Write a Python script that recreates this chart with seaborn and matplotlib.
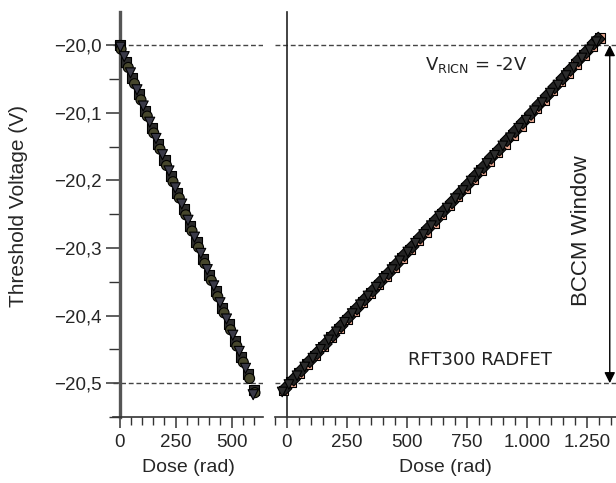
import matplotlib
matplotlib.use("Agg")
import matplotlib.pyplot as plt
import matplotlib.ticker as mticker
import seaborn as sns
import pandas as pd

# ---------------- data ----------------
left_dose_a = [0, 29, 57, 86, 114, 143, 171, 200, 229, 257, 286, 314, 343, 371,
               400, 429, 457, 486, 514, 543, 571, 600]
left_dose_b = [6, 38, 66, 95, 123, 152, 180, 209, 238, 266, 295, 323, 352, 380,
               409, 438, 466, 495, 523, 552, 580, 604]
left_dose_c = [3, 20, 48, 77, 105, 134, 162, 191, 220, 248, 277, 305, 334, 362,
               391, 420, 448, 477, 505, 534, 562, 596]
left_sq = [-20.000, -20.025, -20.049, -20.073, -20.097, -20.122, -20.146, -20.170,
           -20.194, -20.219, -20.243, -20.267, -20.291, -20.316, -20.340, -20.364,
           -20.389, -20.413, -20.437, -20.461, -20.486, -20.510]
left_ci = [-20.006, -20.033, -20.057, -20.081, -20.105, -20.130, -20.154, -20.178,
           -20.202, -20.226, -20.251, -20.275, -20.299, -20.323, -20.348, -20.372,
           -20.396, -20.421, -20.445, -20.469, -20.493, -20.514]
left_tr = [-20.003, -20.017, -20.041, -20.066, -20.090, -20.114, -20.138, -20.162,
           -20.186, -20.211, -20.235, -20.259, -20.284, -20.308, -20.332, -20.356,
           -20.381, -20.405, -20.429, -20.453, -20.478, -20.517]

right_dose = [-15, 18, 51, 84, 117, 150, 183, 216, 249, 282, 315, 348, 381, 414,
              447, 480, 513, 546, 579, 612, 645, 678, 711, 744, 777, 810, 843, 876,
              909, 942, 975, 1008, 1041, 1074, 1107, 1140, 1173, 1206, 1239, 1272, 1305]
right_dose_b = [-8, 28, 60, 95, 126, 160, 192, 226, 258, 292, 324, 358, 390, 424,
                456, 490, 522, 556, 588, 622, 654, 688, 720, 754, 786, 820, 852, 886,
                918, 952, 984, 1018, 1050, 1084, 1116, 1150, 1182, 1216, 1248, 1280, 1298]
right_dose_c = [-20, 8, 42, 74, 108, 140, 174, 206, 240, 272, 306, 338, 372, 404,
                438, 470, 504, 536, 570, 602, 636, 668, 702, 734, 768, 800, 834, 866,
                900, 932, 966, 998, 1032, 1064, 1098, 1130, 1164, 1196, 1230, 1262, 1290]
right_sq = [-20.511, -20.498, -20.485, -20.472, -20.459, -20.446, -20.432, -20.419,
            -20.406, -20.393, -20.380, -20.367, -20.354, -20.341, -20.328, -20.315,
            -20.302, -20.289, -20.276, -20.263, -20.250, -20.237, -20.224, -20.211,
            -20.198, -20.185, -20.172, -20.159, -20.146, -20.133, -20.120, -20.107,
            -20.094, -20.081, -20.067, -20.054, -20.041, -20.028, -20.015, -20.002,
            -19.989]
right_di = [-20.508, -20.494, -20.481, -20.467, -20.455, -20.442, -20.429, -20.415,
            -20.402, -20.389, -20.376, -20.363, -20.350, -20.337, -20.324, -20.310,
            -20.298, -20.284, -20.271, -20.258, -20.245, -20.232, -20.219, -20.206,
            -20.193, -20.180, -20.166, -20.154, -20.140, -20.127, -20.114, -20.101,
            -20.088, -20.075, -20.062, -20.049, -20.036, -20.022, -20.010, -19.997,
            -19.991]
right_tr = [-20.513, -20.502, -20.489, -20.476, -20.463, -20.450, -20.436, -20.424,
            -20.410, -20.397, -20.384, -20.371, -20.358, -20.345, -20.332, -20.319,
            -20.306, -20.293, -20.280, -20.267, -20.253, -20.241, -20.227, -20.215,
            -20.201, -20.189, -20.175, -20.163, -20.149, -20.137, -20.123, -20.111,
            -20.097, -20.085, -20.071, -20.059, -20.045, -20.033, -20.019, -20.007,
            -19.995]

x_label = "Dose (rad)"
y_label = "Threshold Voltage (V)"
window_lines = [-20.0, -20.5]

# ---------------- style ----------------
sns.set_style("ticks")
plt.rcParams["font.family"] = ["Liberation Sans", "DejaVu Sans"]
plt.rcParams["axes.unicode_minus"] = True

def long_df(parts):
    rows = []
    for name, dose, vals in parts:
        for d, v in zip(dose, vals):
            rows.append({"dose": d, "vt": v, "series": name})
    return pd.DataFrame(rows)

dfL = long_df([("A", left_dose_a, left_sq), ("B", left_dose_b, left_ci),
               ("C", left_dose_c, left_tr)])
dfR = long_df([("A", right_dose, right_sq), ("B", right_dose_b, right_di),
               ("C", right_dose_c, right_tr)])

fig = plt.figure(figsize=(6.16, 4.83), dpi=100)
W, H = 616, 483
bottom = 1 - 417 / H
height = 405 / H
axL = fig.add_axes([113 / W, bottom, 150 / W, height])
axR = fig.add_axes([275 / W, bottom, 341 / W, height])

YLIM = (-20.550, -19.951)

left_pal = {"A": "#2b2b2b", "B": "#46462c", "C": "#3a3a48"}
left_mk = {"A": "s", "B": "o", "C": "v"}
right_pal = {"A": "#e9a892", "B": "#232323", "C": "#2c2c2c"}
right_mk = {"A": "s", "B": "D", "C": "v"}

sns.scatterplot(data=dfL, x="dose", y="vt", hue="series", style="series",
                palette=left_pal, markers=left_mk, s=52, edgecolor="black",
                linewidth=0.8, ax=axL, legend=False, zorder=3)
sns.scatterplot(data=dfR, x="dose", y="vt", hue="series", style="series",
                palette=right_pal, markers=right_mk, s=48, edgecolor="black",
                linewidth=0.8, ax=axR, legend=False, zorder=3)

tick_fs = 13.5
for ax, xlim in ((axL, (-30, 640)), (axR, (-50, 1372))):
    ax.set_xlim(*xlim)
    ax.set_ylim(*YLIM)
    ax.spines["top"].set_visible(False)
    ax.spines["right"].set_visible(False)
    ax.spines["left"].set_position(("data", 0))
    ax.spines["bottom"].set_linewidth(1.2)
    ax.spines["bottom"].set_color("#333333")
    ax.xaxis.set_major_locator(mticker.MultipleLocator(250))
    ax.xaxis.set_minor_locator(mticker.MultipleLocator(50))
    ax.xaxis.set_major_formatter(mticker.FuncFormatter(
        lambda v, p: f"{int(round(v)):,}".replace(",", ".")))
    ax.tick_params(axis="x", which="major", direction="out", length=8, width=1.1,
                   labelsize=tick_fs, color="#333333", pad=4)
    ax.tick_params(axis="x", which="minor", direction="out", length=6, width=1.0,
                   color="#333333")
    ax.set_xlabel(x_label, fontsize=14, labelpad=6)
    for yv in window_lines:
        ax.axhline(yv, color="#444444", lw=1.0, ls=(0, (3.5, 2)), zorder=1)

axL.spines["left"].set_linewidth(2.4)
axL.spines["left"].set_color("#555555")
axL.yaxis.set_major_locator(mticker.MultipleLocator(0.1))
axL.yaxis.set_minor_locator(mticker.MultipleLocator(0.05))
axL.yaxis.set_major_formatter(mticker.FuncFormatter(
    lambda v, p: f"{v:.1f}".replace("-", "\u2212").replace(".", ",")))
axL.tick_params(axis="y", which="major", direction="out", length=10, width=1.1,
                labelsize=tick_fs, color="#333333", pad=3)
axL.tick_params(axis="y", which="minor", direction="out", length=8, width=1.0,
                color="#333333")
axL.set_ylabel(y_label, fontsize=15)
axL.yaxis.set_label_coords(-0.565, 0.52)

axR.spines["left"].set_linewidth(1.2)
axR.spines["left"].set_color("#222222")
axR.set_yticks([])
axR.set_ylabel("")

# annotations (data coordinates of the right panel)
axR.text(787, -20.030, r"V$_{\mathregular{RICN}}$ = -2V", fontsize=13,
         family="DejaVu Sans", ha="center", va="center", color="#222222")
axR.text(804, -20.466, "RFT300 RADFET", fontsize=13, family="DejaVu Sans",
         ha="center", va="center", color="#222222")
arrow_x = 1346
axR.annotate("", xy=(arrow_x, window_lines[0]), xytext=(arrow_x, window_lines[1]),
             arrowprops=dict(arrowstyle="<|-|>", color="black", lw=1.0,
                             mutation_scale=16, shrinkA=0, shrinkB=0))
axR.text(1230, -20.275, "BCCM Window", fontsize=16, rotation=90,
         ha="center", va="center", color="#222222")

fig.savefig("out.png", dpi=100)
